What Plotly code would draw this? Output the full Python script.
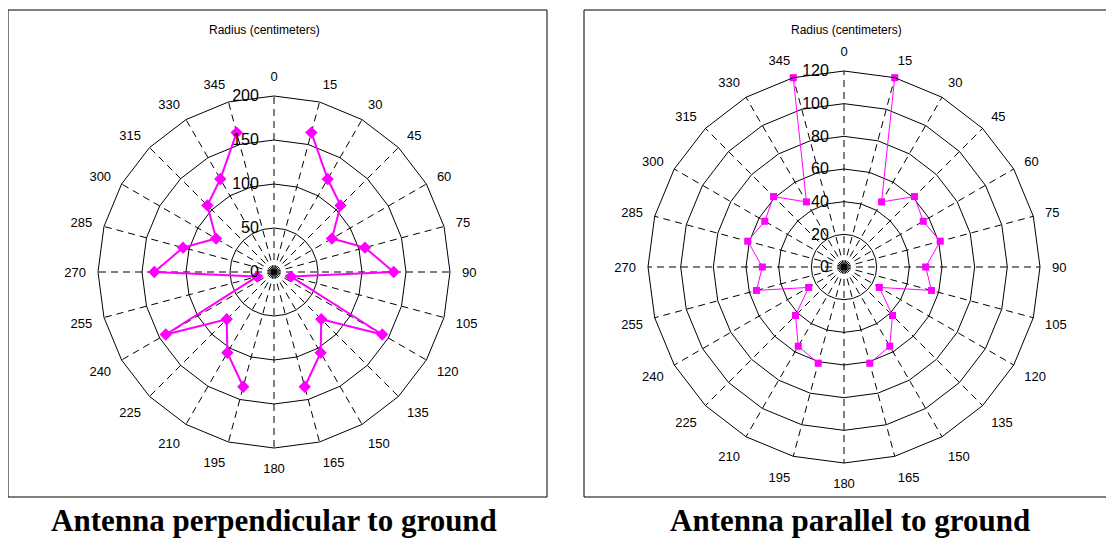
import plotly.graph_objects as go

# ---- data ----
angles = [str(a) for a in range(0, 360, 15)]  # compass angles (degrees)
perp_r = [None, 164, 122, 107, 76, 107, 136, 20, 142, 76, 106, 135,
          None, 135, 106, 76, 142, 20, 136, 107, 76, 107, 122, 164]
para_r = [None, 120, 46, 61, 56, 61, 50, 55.5, 25, 42, 56, 61,
          None, 61, 56, 42, 25, 55.5, 50, 61, 56, 61, 46, 120]
perp_ticks = [0, 50, 100, 150, 200]
para_ticks = [0, 20, 40, 60, 80, 100, 120]
titles = ["Antenna perpendicular to ground", "Antenna parallel to ground"]
radius_label = "Radius (centimeters)"

MAG = "#FF00FF"
OFF = 8                      # page body margin
W, H = 1114 - OFF, 538 - OFF

fig = go.Figure()
fig.add_trace(go.Scatterpolar(r=perp_r, theta=angles, mode="lines+markers",
                              line=dict(color=MAG, width=2),
                              marker=dict(symbol="diamond", size=9.5, color=MAG),
                              subplot="polar", showlegend=False))
fig.add_trace(go.Scatterpolar(r=para_r, theta=angles, mode="lines+markers",
                              line=dict(color=MAG, width=1),
                              marker=dict(symbol="square", size=7, color=MAG),
                              subplot="polar2", showlegend=False))


def polar_cfg(xd, yd, ticks):
    return dict(
        domain=dict(x=xd, y=yd),
        bgcolor="white",
        gridshape="linear",
        angularaxis=dict(type="category", categoryorder="array", categoryarray=angles,
                         direction="clockwise", rotation=90,
                         showgrid=True, gridcolor="black", gridwidth=1, griddash="7px,5px",
                         showline=True, linecolor="black", linewidth=1,
                         ticks="outside", ticklen=9, tickcolor="rgba(0,0,0,0)",
                         tickfont=dict(family="Liberation Sans", size=13, color="black")),
        radialaxis=dict(range=[ticks[0], ticks[-1]], tickvals=ticks,
                        showgrid=True, gridcolor="black", gridwidth=1,
                        showline=False, angle=90, tickangle=90,
                        ticks="outside", ticklen=9, tickcolor="rgba(0,0,0,0)",
                        side="counterclockwise",
                        tickfont=dict(family="Liberation Sans", size=16, color="black")),
    )


def px(x):
    return (x - OFF) / W


def py(y):
    return 1 - (y - OFF) / H


fig.update_layout(
    width=W, height=H,
    margin=dict(l=0, r=0, t=0, b=0),
    paper_bgcolor="white",
    polar=polar_cfg([px(98), px(450)], [py(448), py(96)], perp_ticks),
    polar2=polar_cfg([px(648), px(1040)], [py(463), py(71)], para_ticks),
    shapes=[
        dict(type="rect", xref="paper", yref="paper", x0=px(8), x1=px(547), y0=py(497), y1=py(10),
             line=dict(color="black", width=1)),
        dict(type="rect", xref="paper", yref="paper", x0=px(584), x1=px(1108), y0=py(497), y1=py(10),
             line=dict(color="black", width=1)),
    ],
    annotations=[
        dict(text=radius_label, x=px(264), y=py(30), xref="paper", yref="paper", showarrow=False,
             xanchor="center", yanchor="middle",
             font=dict(family="Liberation Sans", size=12, color="black")),
        dict(text=radius_label, x=px(846), y=py(30), xref="paper", yref="paper", showarrow=False,
             xanchor="center", yanchor="middle",
             font=dict(family="Liberation Sans", size=12, color="black")),
        dict(text="<b>" + titles[0] + "</b>", x=px(274), y=py(520), xref="paper", yref="paper",
             xanchor="center", yanchor="middle",
             showarrow=False, font=dict(family="Liberation Serif", size=31, color="black")),
        dict(text="<b>" + titles[1] + "</b>", x=px(850), y=py(520), xref="paper", yref="paper",
             xanchor="center", yanchor="middle",
             showarrow=False, font=dict(family="Liberation Serif", size=31, color="black")),
    ],
)

fig.write_html("out.html")
